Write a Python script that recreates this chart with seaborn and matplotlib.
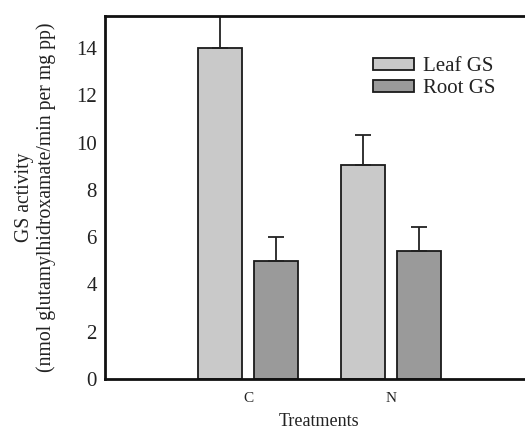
import matplotlib
matplotlib.use("Agg")
import matplotlib.pyplot as plt
import seaborn as sns
import pandas as pd

treatments = ["C", "N"]
leaf_gs = [14.0, 9.05]
root_gs = [5.0, 5.42]
leaf_err = [1.6, 1.28]
root_err = [1.0, 1.0]
series_names = ["Leaf GS", "Root GS"]
yticks = [0, 2, 4, 6, 8, 10, 12, 14]

df = pd.DataFrame({
    "Treatment": treatments * 2,
    "Series": [series_names[0]] * 2 + [series_names[1]] * 2,
    "Value": leaf_gs + root_gs,
})

sns.set_theme(style="white")
plt.rcParams["font.family"] = ["Liberation Serif", "DejaVu Serif"]

fig = plt.figure(figsize=(5.25, 4.34), dpi=100)
ax = fig.add_axes([0.2, 0.1267, 0.817, 0.8363])

sns.barplot(data=df, x="Treatment", y="Value", hue="Series", order=treatments,
            hue_order=series_names, palette=["#c9c9c9", "#9a9a9a"],
            width=0.78, gap=0.2, errorbar=None, edgecolor="#1a1a1a",
            linewidth=1.3, ax=ax, legend=True)

errs = leaf_err + root_err
vals = leaf_gs + root_gs
for p, v, e in zip(ax.patches[:4], vals, errs):
    cx = p.get_x() + p.get_width() / 2
    ax.errorbar(cx, v, yerr=[[0], [e]], fmt="none", ecolor="#222222",
                elinewidth=1.3, capsize=6, capthick=1.3, zorder=1)

ax.set_xlim(-1, 2)
ax.set_ylim(0, 15.36)
ax.set_yticks(yticks)
ax.set_yticklabels([str(t) for t in yticks], fontsize=15, color="#222222")
ax.set_xticks([0, 1])
ax.set_xticklabels(treatments, fontsize=11, color="#222222")
ax.tick_params(axis="y", direction="out", length=3, width=1, color="#444444", pad=3)
ax.tick_params(axis="x", direction="out", length=3, width=1, color="#444444", pad=6)
ax.set_xlabel("Treatments", fontsize=13, labelpad=6, color="#222222")
ax.set_ylabel("GS activity\n(nmol glutamylhidroxamate/min per mg pp)", fontsize=14.2,
              labelpad=14, linespacing=1.2, color="#222222")
for s in ax.spines.values():
    s.set_linewidth(2)
    s.set_color("#111111")

leg = ax.legend(loc="upper left", bbox_to_anchor=(0.6, 0.915), frameon=False,
                fontsize=15, handlelength=2.0, handleheight=0.55,
                labelspacing=0.15, handletextpad=0.4, borderpad=0)
for t in leg.get_texts():
    t.set_color("#222222")
for h in leg.legend_handles:
    h.set_edgecolor("#1a1a1a")
    h.set_linewidth(1.3)

fig.savefig("out.png", dpi=100)
